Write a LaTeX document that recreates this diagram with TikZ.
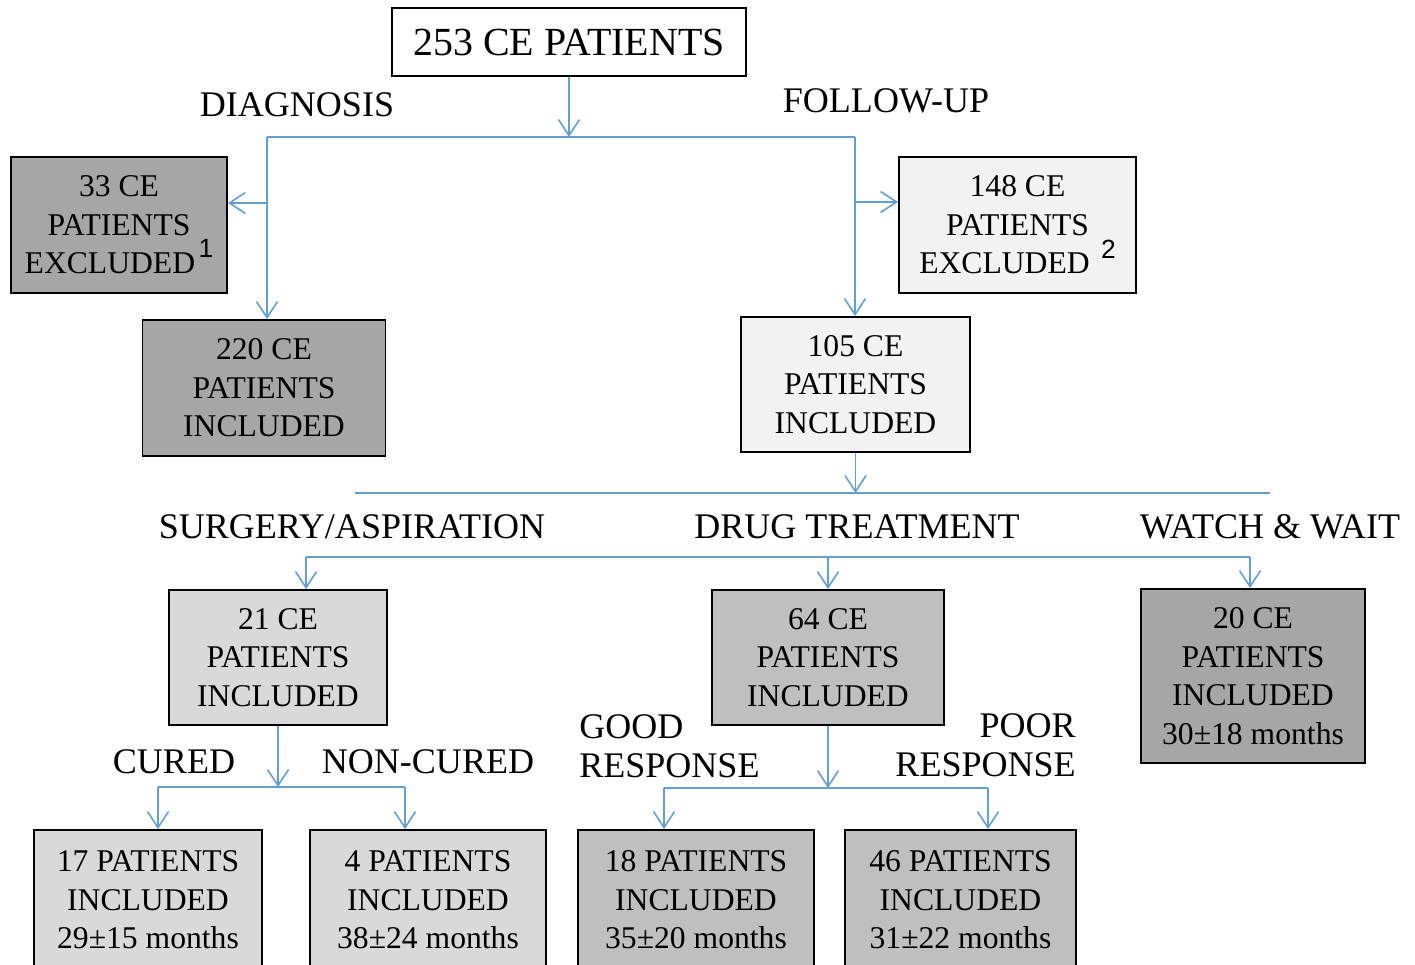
\documentclass[tikz,border=0pt]{standalone}
\usepackage{fontspec}
\setmainfont{Liberation Serif}
\setsansfont{Liberation Sans}
\usetikzlibrary{arrows,arrows.meta}
\usetikzlibrary{positioning, calc}
\definecolor{linkblue}{RGB}{98,158,216}
\definecolor{greyA}{RGB}{166,166,166}
\definecolor{greyB}{RGB}{191,191,191}
\definecolor{greyC}{RGB}{217,217,217}
\definecolor{greyD}{RGB}{242,242,242}
\tikzset{
    box/.style={draw=black, line width=1.1pt, align=center, inner sep=2pt,
        font=\fontsize{18}{21.9}\selectfont, minimum height=2.72cm},
    lab/.style={font=\fontsize{20.5}{22}\selectfont, inner sep=0pt},
    link/.style={draw=linkblue, line width=0.9pt},
    linka/.style={link, -{Straight Barb[length=0.32cm, width=0.42cm, line width=0.9pt]}}
}
\newcommand{\supx}[1]{\hspace{2pt}\raisebox{0.5em}{\fontsize{15}{15}\sffamily #1}}
\begin{document}
\begin{tikzpicture}
    \useasboundingbox (0,0) rectangle (28.3,-19.28);
    % boxes
    \node[box, minimum width=7.08cm, minimum height=1.36cm, font=\fontsize{22.7}{24}\selectfont] (top) at (11.38,-0.84) {253 CE PATIENTS};
    \node[box, fill=greyA, minimum width=4.32cm] (ex1) at (2.38,-4.5) {33 CE\\PATIENTS\\EXCLUDED\supx{1}};
    \node[box, fill=greyA, minimum width=4.86cm] (inc1) at (5.28,-7.76) {220 CE\\PATIENTS\\INCLUDED};
    \node[box, fill=greyD, minimum width=4.74cm] (ex2) at (20.35,-4.5) {148 CE\\PATIENTS\\EXCLUDED \supx{2}};
    \node[box, fill=greyD, minimum width=4.58cm, minimum height=2.7cm] (inc2) at (17.11,-7.69) {105 CE\\PATIENTS\\INCLUDED};
    \node[box, fill=greyC, minimum width=4.36cm, minimum height=2.7cm] (surg) at (5.56,-13.15) {21 CE\\PATIENTS\\INCLUDED};
    \node[box, fill=greyB, minimum width=4.64cm, minimum height=2.7cm] (drug) at (16.56,-13.15) {64 CE\\PATIENTS\\INCLUDED};
    \node[box, fill=greyA, minimum width=4.48cm, minimum height=3.48cm] (wait) at (25.06,-13.52) {20 CE\\PATIENTS\\INCLUDED\\30±18 months};
    \node[box, fill=greyC, minimum width=4.56cm, minimum height=2.8cm] (cured) at (2.96,-18.0) {17 PATIENTS\\INCLUDED\\29±15 months};
    \node[box, fill=greyC, minimum width=4.72cm, minimum height=2.8cm] (noncured) at (8.56,-18.0) {4 PATIENTS\\INCLUDED\\38±24 months};
    \node[box, fill=greyB, minimum width=4.72cm, minimum height=2.8cm] (good) at (13.92,-18.0) {18 PATIENTS\\INCLUDED\\35±20 months};
    \node[box, fill=greyB, minimum width=4.62cm, minimum height=2.8cm] (poor) at (19.21,-18.0) {46 PATIENTS\\INCLUDED\\31±22 months};
    % labels
    \node[lab] (diag) at (5.94,-2.1) {DIAGNOSIS};
    \node[lab] (fol) at (17.72,-2.02) {FOLLOW-UP};
    \node[lab] (lsurg) at (7.04,-10.54) {SURGERY/ASPIRATION};
    \node[lab] (ldrug) at (17.14,-10.54) {DRUG TREATMENT};
    \node[lab] (lwait) at (25.4,-10.54) {WATCH \& WAIT};
    \node[lab] (lcured) at (3.48,-15.24) {CURED};
    \node[lab] (lnon) at (8.56,-15.24) {NON-CURED};
    \node[lab, align=left, anchor=west] (lgood) at (11.58,-14.92) {GOOD\\RESPONSE};
    \node[lab, align=right, anchor=east] (lpoor) at (21.52,-14.9) {POOR\\RESPONSE};
    % junctions
    \coordinate (b1L) at (5.34,-2.74);
    \coordinate (b1R) at (17.1,-2.74);
    \coordinate (k1) at (5.34,-4.06);
    \coordinate (k2) at (17.1,-4.04);
    \coordinate (b2L) at (7.1,-9.86);
    \coordinate (b2R) at (25.4,-9.86);
    \coordinate (b3L) at (6.12,-11.14);
    \coordinate (b3R) at (25.0,-11.14);
    \coordinate (b4L) at (3.16,-15.74);
    \coordinate (b4R) at (8.1,-15.74);
    \coordinate (b5L) at (13.28,-15.76);
    \coordinate (b5R) at (19.76,-15.76);
    % connectors
    \draw[linka] (top.south) -- (top.south |- b1L);
    \draw[link] (b1L) -- (b1R);
    \draw[linka] (b1L) -- (b1L |- inc1.north);
    \draw[linka] (k1) -- (ex1.east |- k1);
    \draw[linka] (b1R) -- (b1R |- inc2.north);
    \draw[linka] (k2) -- (ex2.west |- k2);
    \draw[linka] (inc2.south) -- (inc2.south |- b2L);
    \draw[link] (b2L) -- (b2R);
    \draw[link] (b3L) -- (b3R);
    \draw[linka] (b3L) -- (b3L |- surg.north);
    \draw[linka] (drug.north |- b3L) -- (drug.north);
    \draw[linka] (b3R) -- (b3R |- wait.north);
    \draw[linka] (surg.south) -- (surg.south |- b4L);
    \draw[link] (b4L) -- (b4R);
    \draw[linka] (b4L) -- (b4L |- cured.north);
    \draw[linka] (b4R) -- (b4R |- noncured.north);
    \draw[linka] (drug.south) -- (drug.south |- b5L);
    \draw[link] (b5L) -- (b5R);
    \draw[linka] (b5L) -- (b5L |- good.north);
    \draw[linka] (b5R) -- (b5R |- poor.north);
\end{tikzpicture}
\end{document}
